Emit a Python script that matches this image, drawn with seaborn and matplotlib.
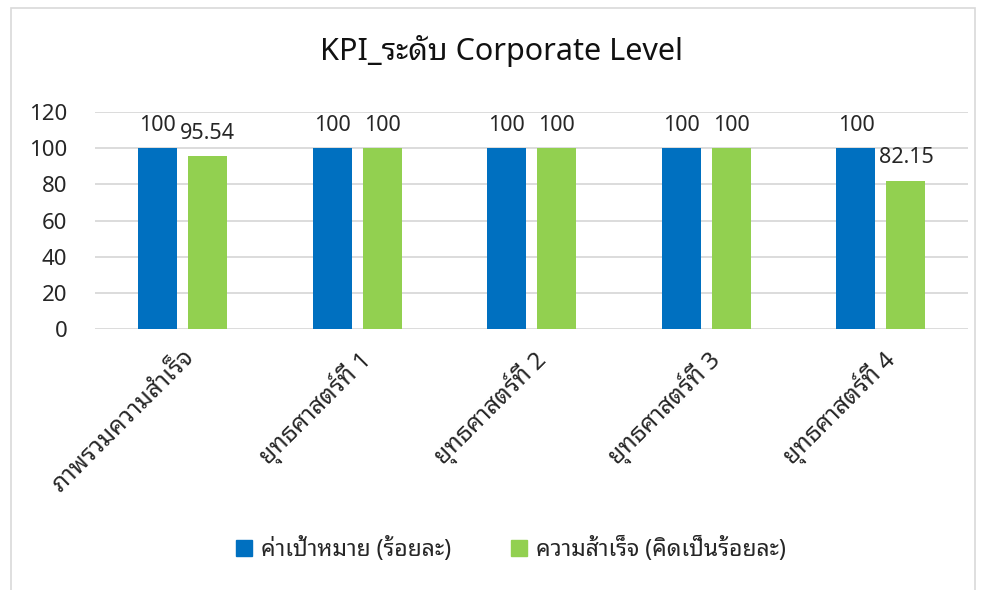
import matplotlib
matplotlib.use("Agg")
import matplotlib.pyplot as plt
import matplotlib.patches as mpatches
import pandas as pd
import seaborn as sns

# ── data ──────────────────────────────────────────────────────────────────────
CATEGORIES = ["ภาพรวมความสำเร็จ", "ยุทธศาสตร์ที่ 1", "ยุทธศาสตร์ที่ 2",
              "ยุทธศาสตร์ที่ 3", "ยุทธศาสตร์ที่ 4"]
SERIES = ["ค่าเป้าหมาย (ร้อยละ)", "ความส้าเร็จ (คิดเป็นร้อยละ)"]
TARGET = [100, 100, 100, 100, 100]
ACHIEVED = [95.54, 100, 100, 100, 82.15]
Y_TICKS = [0, 20, 40, 60, 80, 100, 120]

COLORS = ["#0070C0", "#92D050"]

sns.set_theme(style="white")
plt.rcParams["font.family"] = ["Noto Sans Thai Looped", "Noto Sans Thai", "DejaVu Sans"]

df = pd.DataFrame({
    "category": CATEGORIES * 2,
    "series": [SERIES[0]] * len(CATEGORIES) + [SERIES[1]] * len(CATEGORIES),
    "value": TARGET + ACHIEVED,
})

fig = plt.figure(figsize=(9.82, 5.90), dpi=100)
ax = fig.add_axes([0.097, 0.442, 0.889, 0.368])

sns.barplot(data=df, x="category", y="value", hue="series", order=CATEGORIES,
            hue_order=SERIES, palette=COLORS, width=0.573, gap=0.22,
            saturation=1, linewidth=0, ax=ax, legend=False)

for cont in ax.containers:
    ax.bar_label(cont, labels=[f"{v:g}" for v in cont.datavalues],
                 padding=9, fontsize=15.5, color="#262626")

ax.set_xlim(-0.5, len(CATEGORIES) - 0.5)
ax.set_ylim(0, 120)
ax.set_yticks(Y_TICKS)
ax.yaxis.grid(True, color="#d9d9d9", linewidth=1.3)
ax.set_axisbelow(True)
for side in ["top", "right", "left", "bottom"]:
    ax.spines[side].set_visible(False)
ax.tick_params(axis="y", labelsize=16, pad=20, colors="#262626", length=0)
ax.tick_params(axis="x", labelsize=17.5, pad=12, colors="#262626", length=0)
plt.setp(ax.get_xticklabels(), rotation=45, ha="right", rotation_mode="anchor")
ax.set_xlabel("")
ax.set_ylabel("")

fig.text(0.511, 0.913, "KPI_ระดับ Corporate Level", ha="center", va="center",
         fontsize=22, color="#111111")

handles = [mpatches.Patch(color=c, label=s) for c, s in zip(COLORS, SERIES)]
fig.legend(handles=handles, loc="center", bbox_to_anchor=(0.52, 0.068), ncol=2,
           frameon=False, fontsize=16.5, handlelength=0.7, handleheight=0.7,
           handletextpad=0.4, columnspacing=2.6)

fig.patches.append(mpatches.Rectangle((0.011, -0.01), 0.982, 0.996, transform=fig.transFigure,
                                      fill=False, edgecolor="#d9d9d9", linewidth=1.2))

fig.savefig("out.png", dpi=100)
